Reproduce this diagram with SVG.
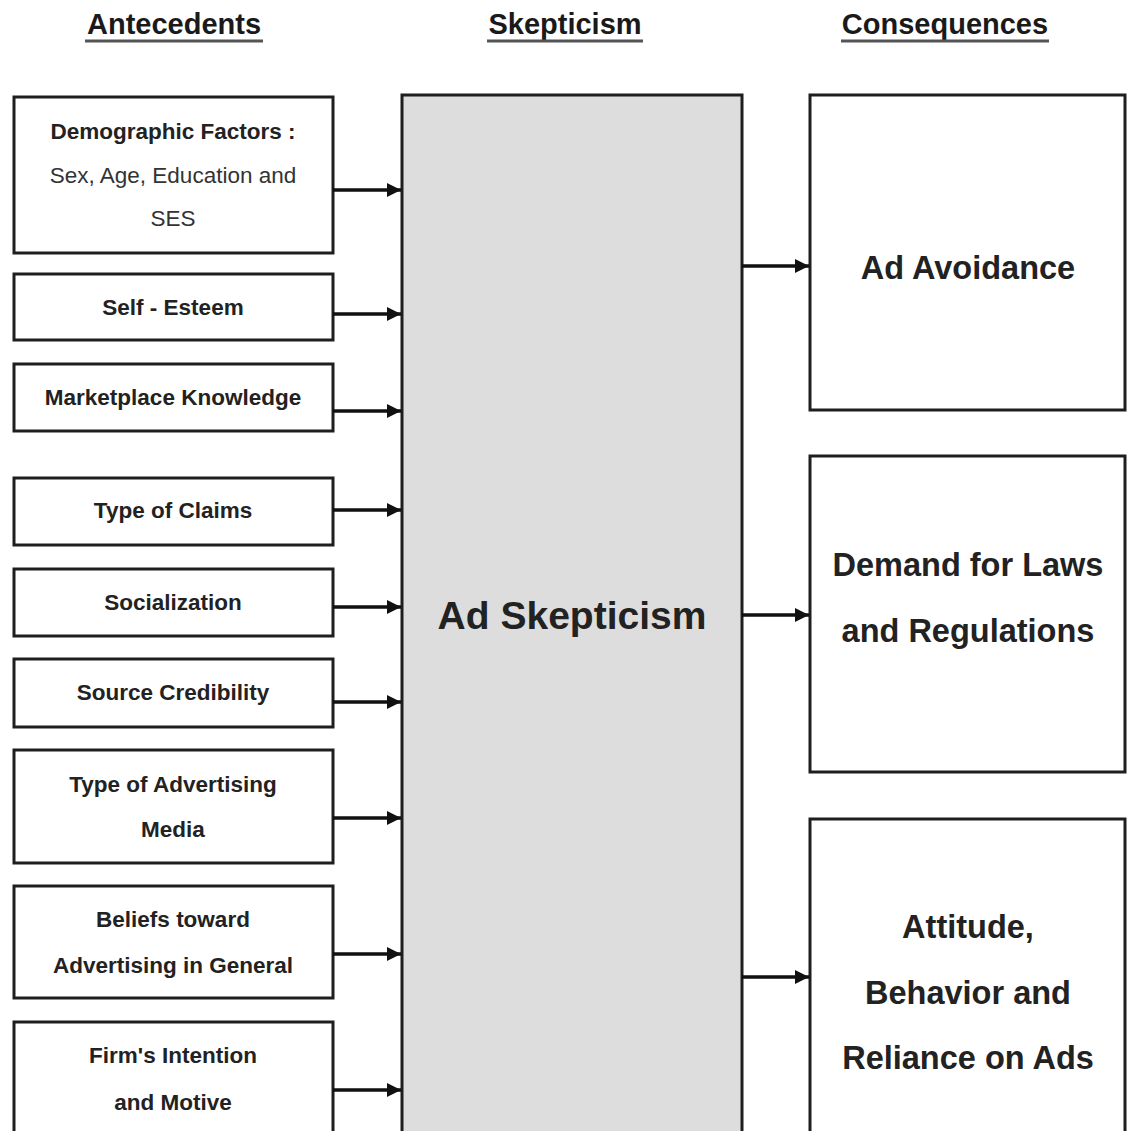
<svg xmlns="http://www.w3.org/2000/svg" width="1129" height="1131" viewBox="0 0 1129 1131">
<style>
.box{fill:#fff;stroke:#1e1e1e;stroke-width:3}
.core{fill:#dddddd;stroke:#1e1e1e;stroke-width:3}
.t{font-family:"Liberation Sans",Arial,sans-serif;font-weight:bold;fill:#222;text-anchor:middle}
.s{font-size:22.5px}
.r{font-weight:normal;fill:#333}
.l{font-size:32.5px}
.h{font-size:29px;fill:#1a1a1a}
.u{stroke:#555;stroke-width:3}
.c{stroke:#111;stroke-width:3.5;fill:none}
</style>
<defs>
<marker id="ah" viewBox="0 0 10 10" refX="10" refY="5" markerWidth="17" markerHeight="14" markerUnits="userSpaceOnUse" orient="auto">
<path d="M0,0 L10,5 L0,10 z" fill="#111"/>
</marker>
</defs>
<rect width="1129" height="1131" fill="#fff"/>
<g id="headers">
<text class="t h" x="174" y="34">Antecedents</text>
<line class="u" x1="85" y1="41" x2="263" y2="41"/>
<text class="t h" x="565" y="34">Skepticism</text>
<line class="u" x1="487" y1="41" x2="643" y2="41"/>
<text class="t h" x="945" y="34">Consequences</text>
<line class="u" x1="841" y1="41" x2="1049" y2="41"/>
</g>
<g id="core">
<rect class="core" x="402" y="95" width="340" height="1045"/>
<text class="t" x="572" y="629" font-size="39">Ad Skepticism</text>
</g>
<g id="demographic">
<rect class="box" x="14" y="97" width="319" height="156"/>
<text class="t s" x="173" y="139">Demographic Factors :</text>
<text class="t s r" x="173" y="183">Sex, Age, Education and</text>
<text class="t s r" x="173" y="226">SES</text>
</g>
<g id="self-esteem">
<rect class="box" x="14" y="274" width="319" height="66"/>
<text class="t s" x="173" y="315">Self - Esteem</text>
</g>
<g id="marketplace">
<rect class="box" x="14" y="364" width="319" height="67"/>
<text class="t s" x="173" y="405">Marketplace Knowledge</text>
</g>
<g id="claims">
<rect class="box" x="14" y="478" width="319" height="67"/>
<text class="t s" x="173" y="518">Type of Claims</text>
</g>
<g id="socialization">
<rect class="box" x="14" y="569" width="319" height="67"/>
<text class="t s" x="173" y="610">Socialization</text>
</g>
<g id="source">
<rect class="box" x="14" y="659" width="319" height="68"/>
<text class="t s" x="173" y="700">Source Credibility</text>
</g>
<g id="media">
<rect class="box" x="14" y="750" width="319" height="113"/>
<text class="t s" x="173" y="792">Type of Advertising</text>
<text class="t s" x="173" y="837">Media</text>
</g>
<g id="beliefs">
<rect class="box" x="14" y="886" width="319" height="112"/>
<text class="t s" x="173" y="927">Beliefs toward</text>
<text class="t s" x="173" y="973">Advertising in General</text>
</g>
<g id="firm">
<rect class="box" x="14" y="1022" width="319" height="120"/>
<text class="t s" x="173" y="1063">Firm's Intention</text>
<text class="t s" x="173" y="1110">and Motive</text>
</g>
<g id="avoidance">
<rect class="box" x="810" y="95" width="315" height="315"/>
<text class="t l" x="968" y="279">Ad Avoidance</text>
</g>
<g id="laws">
<rect class="box" x="810" y="456" width="315" height="316"/>
<text class="t l" x="968" y="576">Demand for Laws</text>
<text class="t l" x="968" y="642">and Regulations</text>
</g>
<g id="attitude">
<rect class="box" x="810" y="819" width="315" height="330"/>
<text class="t l" x="968" y="938">Attitude,</text>
<text class="t l" x="968" y="1004">Behavior and</text>
<text class="t l" x="968" y="1069">Reliance on Ads</text>
</g>
<g id="connectors">
<line class="c" x1="333" y1="190" x2="401" y2="190" marker-end="url(#ah)"/>
<line class="c" x1="333" y1="314" x2="401" y2="314" marker-end="url(#ah)"/>
<line class="c" x1="333" y1="411" x2="401" y2="411" marker-end="url(#ah)"/>
<line class="c" x1="333" y1="510" x2="401" y2="510" marker-end="url(#ah)"/>
<line class="c" x1="333" y1="607" x2="401" y2="607" marker-end="url(#ah)"/>
<line class="c" x1="333" y1="702" x2="401" y2="702" marker-end="url(#ah)"/>
<line class="c" x1="333" y1="818" x2="401" y2="818" marker-end="url(#ah)"/>
<line class="c" x1="333" y1="954" x2="401" y2="954" marker-end="url(#ah)"/>
<line class="c" x1="333" y1="1090" x2="401" y2="1090" marker-end="url(#ah)"/>
<line class="c" x1="742" y1="266" x2="809" y2="266" marker-end="url(#ah)"/>
<line class="c" x1="742" y1="615" x2="809" y2="615" marker-end="url(#ah)"/>
<line class="c" x1="742" y1="977" x2="809" y2="977" marker-end="url(#ah)"/>
</g>
</svg>
